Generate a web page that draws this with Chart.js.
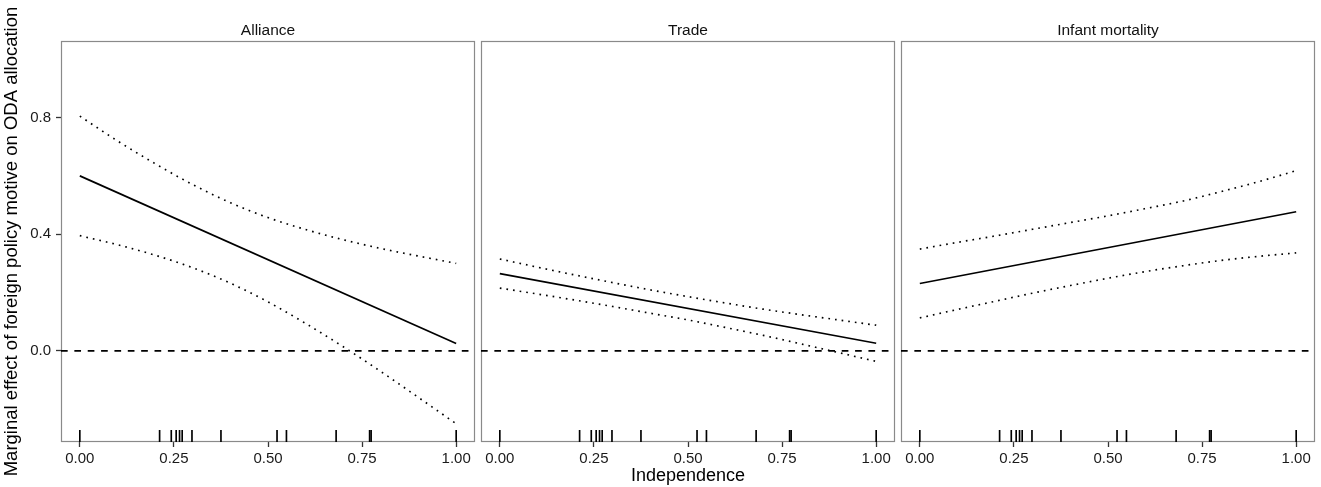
<!DOCTYPE html>
<html>
<head>
<meta charset="utf-8">
<script src="https://cdn.jsdelivr.net/npm/chart.js@4.4.1/dist/chart.umd.min.js"></script>
<style>
  html, body { margin: 0; padding: 0; background: #ffffff; }
  #wrap { position: relative; width: 1321px; height: 487px; overflow: hidden; background: #ffffff; }
  #wrap canvas { position: absolute; top: 0; }
</style>
</head>
<body>
<div id="wrap">
  <canvas id="c1" width="478" height="487" style="left:0px;width:478px;height:487px;"></canvas>
  <canvas id="c2" width="420" height="487" style="left:478px;width:420px;height:487px;"></canvas>
  <canvas id="c3" width="423" height="487" style="left:898px;width:423px;height:487px;"></canvas>
</div>
<script>
// ---------------- data ----------------
const PANEL_TITLES = ['Alliance', 'Trade', 'Infant mortality'];
const X_TITLE = 'Independence';
const Y_TITLE = 'Marginal effect of foreign policy motive on ODA allocation';

const X_TICKS = [0, 0.25, 0.5, 0.75, 1];
const X_TICK_LABELS = ['0.00', '0.25', '0.50', '0.75', '1.00'];
const Y_TICKS = [0, 0.4, 0.8];
const Y_TICK_LABELS = ['0.0', '0.4', '0.8'];

// x positions of the estimate end points and of the confidence band points
const X_ENDS = [0, 1];
const X_GRID = [0, 0.1, 0.2, 0.3, 0.4, 0.5, 0.6, 0.7, 0.8, 0.9, 1.0];

// Alliance
const ALLIANCE_EST   = [0.600, 0.025];
const ALLIANCE_UPPER = [0.805, 0.720, 0.642, 0.570, 0.508, 0.457, 0.416, 0.381, 0.351, 0.325, 0.300];
const ALLIANCE_LOWER = [0.395, 0.364, 0.328, 0.285, 0.232, 0.168, 0.094, 0.014, -0.071, -0.160, -0.250];

// Trade
const TRADE_EST   = [0.265, 0.026];
const TRADE_UPPER = [0.315, 0.287, 0.260, 0.234, 0.209, 0.186, 0.164, 0.143, 0.124, 0.106, 0.088];
const TRADE_LOWER = [0.215, 0.195, 0.174, 0.152, 0.129, 0.106, 0.080, 0.053, 0.024, -0.006, -0.036];

// Infant mortality
const INFANT_EST   = [0.231, 0.477];
const INFANT_UPPER = [0.349, 0.372, 0.394, 0.417, 0.440, 0.463, 0.488, 0.514, 0.546, 0.580, 0.618];
const INFANT_LOWER = [0.113, 0.142, 0.170, 0.198, 0.224, 0.249, 0.272, 0.292, 0.310, 0.324, 0.336];

// rug: observed values of Independence (same in every panel)
const RUG_X = [0.0, 0.212, 0.243, 0.256, 0.265, 0.272, 0.298, 0.375, 0.524, 0.549, 0.681, 0.770, 0.774, 1.0];

const ZERO_LINE = 0;

// ---------------- axis limits ----------------
const X_MIN = -0.05, X_MAX = 1.05;
const Y_MIN = -0.3125, Y_MAX = 1.0625;

// ---------------- styling ----------------
Chart.defaults.font.family = "'Liberation Sans', Arial, Helvetica, sans-serif";
Chart.defaults.color = '#1a1a1a';

const LW = 1.67;
const FONT = "'Liberation Sans', Arial, Helvetica, sans-serif";

const framePlugin = {
  id: 'panelFrame',
  beforeDatasetsDraw(chart, args, opts) {
    const { ctx, chartArea: a } = chart;
    ctx.save();
    ctx.strokeStyle = opts.color;
    ctx.lineWidth = opts.width;
    ctx.strokeRect(a.left + 0.5, a.top + 0.5, a.right - a.left - 1, a.bottom - a.top - 1);
    ctx.restore();
  },
  afterDraw(chart, args, opts) {
    const { ctx, chartArea: a } = chart;
    ctx.save();
    ctx.font = opts.titleFont;
    ctx.fillStyle = opts.titleColor;
    ctx.textAlign = 'center';
    ctx.textBaseline = 'middle';
    ctx.fillText(opts.title, (a.left + a.right) / 2, a.top - opts.titleGap);
    ctx.restore();
  }
};

function pts(xs, ys) { return xs.map((x, i) => ({ x: x, y: ys[i] })); }

function makeDatasets(est, upper, lower) {
  const rugY = Y_MIN + (Y_MAX - Y_MIN) * 0.015;
  return [
    { label: 'estimate', data: pts(X_ENDS, est), showLine: true, borderColor: '#000', borderWidth: LW,
      pointRadius: 0, fill: false },
    { label: 'upper', data: pts(X_GRID, upper), showLine: true, borderColor: '#000', borderWidth: LW,
      borderDash: [LW, 3 * LW], pointRadius: 0, fill: false, cubicInterpolationMode: 'monotone' },
    { label: 'lower', data: pts(X_GRID, lower), showLine: true, borderColor: '#000', borderWidth: LW,
      borderDash: [LW, 3 * LW], pointRadius: 0, fill: false, cubicInterpolationMode: 'monotone' },
    { label: 'zero', data: [{ x: X_MIN, y: ZERO_LINE }, { x: X_MAX, y: ZERO_LINE }], showLine: true,
      borderColor: '#000', borderWidth: LW, borderDash: [4 * LW, 4 * LW], pointRadius: 0, fill: false },
    { label: 'rug', data: RUG_X.map(v => ({ x: v, y: rugY })), showLine: false,
      pointStyle: 'line', rotation: 90, pointRadius: 6, pointBorderWidth: LW,
      pointBorderColor: '#000', borderColor: '#000', pointBackgroundColor: '#000' }
  ];
}

function makeConfig(idx, est, upper, lower, showY, showXTitle, padLeft, padRight) {
  return {
    type: 'scatter',
    data: { datasets: makeDatasets(est, upper, lower) },
    options: {
      responsive: false,
      animation: false,
      devicePixelRatio: 1,
      events: [],
      layout: { autoPadding: false, padding: { top: 41, left: padLeft, right: padRight, bottom: 0 } },
      plugins: {
        legend: { display: false },
        tooltip: { enabled: false },
        title: { display: false },
        panelFrame: { color: '#8a8a8a', width: 1.2, title: PANEL_TITLES[idx],
          titleFont: "15.5px " + FONT, titleColor: '#111', titleGap: 10.5 }
      },
      scales: {
        x: {
          type: 'linear', min: X_MIN, max: X_MAX,
          afterBuildTicks: s => { s.ticks = X_TICKS.map(v => ({ value: v })); },
          afterFit: s => { s.height = 45; },
          grid: { drawOnChartArea: false, drawTicks: true, tickLength: 5, color: '#333', tickColor: '#333', tickWidth: 1.3 },
          border: { display: false },
          ticks: { padding: 3, color: '#1a1a1a', font: { size: 15 }, maxRotation: 0, minRotation: 0, autoSkip: false,
            callback: (v) => X_TICK_LABELS[X_TICKS.indexOf(v)] },
          title: { display: showXTitle, text: X_TITLE, font: { size: 18 }, color: '#000', padding: 0 }
        },
        y: {
          type: 'linear', min: Y_MIN, max: Y_MAX, display: showY,
          afterBuildTicks: s => { s.ticks = Y_TICKS.map(v => ({ value: v })); },
          afterFit: s => { s.width = showY ? 61 : 0; },
          grid: { drawOnChartArea: false, drawTicks: true, tickLength: 5, color: '#333', tickColor: '#333', tickWidth: 1.3 },
          border: { display: false },
          ticks: { padding: 5, color: '#1a1a1a', font: { size: 15 },
            callback: (v) => Y_TICK_LABELS[Y_TICKS.indexOf(v)] },
          title: { display: showY, text: Y_TITLE, font: { size: 18.5 }, color: '#000', padding: { top: 1, bottom: 0 } }
        }
      }
    },
    plugins: [framePlugin]
  };
}

new Chart(document.getElementById('c1'), makeConfig(0, ALLIANCE_EST, ALLIANCE_UPPER, ALLIANCE_LOWER, true, false, 0, 3));
new Chart(document.getElementById('c2'), makeConfig(1, TRADE_EST, TRADE_UPPER, TRADE_LOWER, false, true, 3, 3));
new Chart(document.getElementById('c3'), makeConfig(2, INFANT_EST, INFANT_UPPER, INFANT_LOWER, false, false, 3, 6));
</script>
</body>
</html>
